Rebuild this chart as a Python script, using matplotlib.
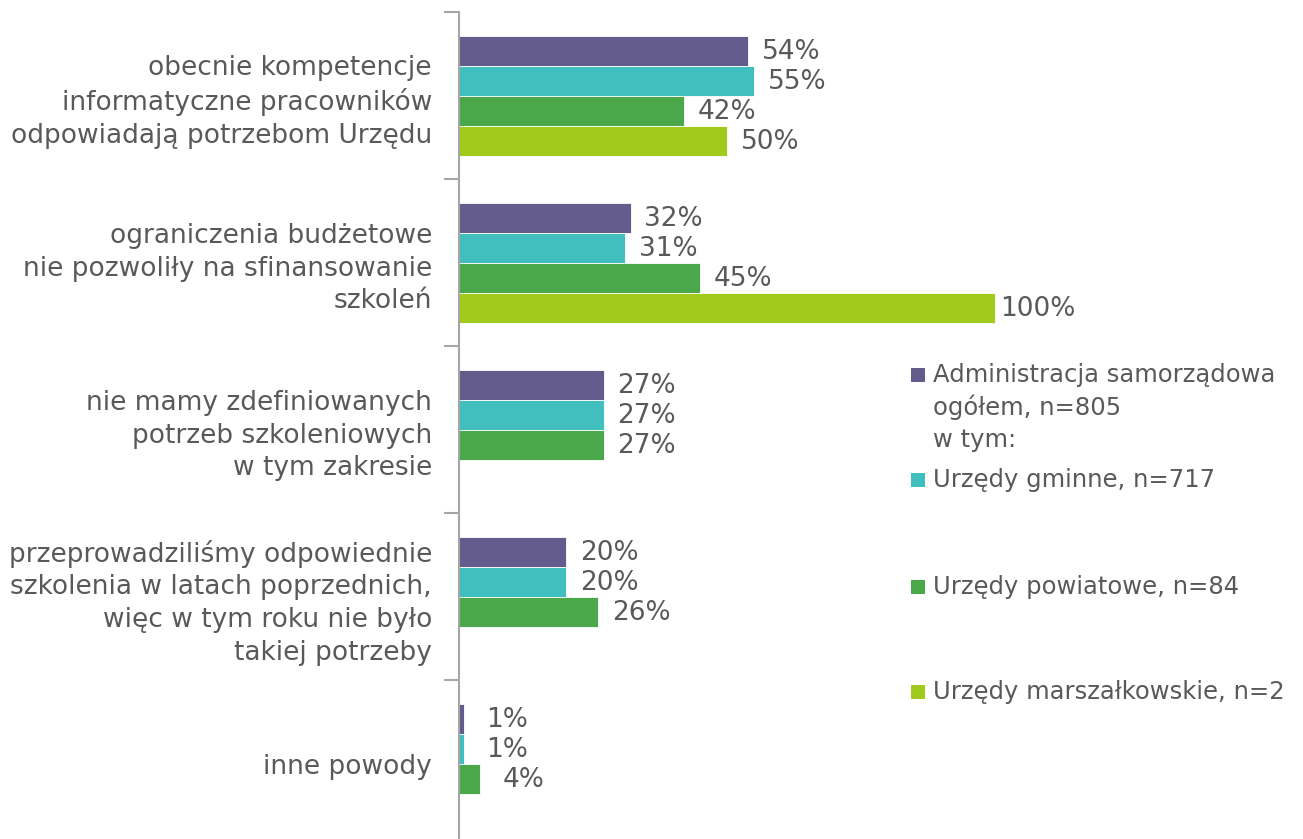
import matplotlib
matplotlib.use("Agg")
import matplotlib.pyplot as plt
from matplotlib.patches import Rectangle
import numpy as np

plt.rcParams['font.family'] = ['DejaVu Sans']

categories = [
    "obecnie kompetencje\ninformatyczne pracowników\nodpowiadają potrzebom Urzędu",
    "ograniczenia budżetowe\nnie pozwoliły na sfinansowanie\nszkoleń",
    "nie mamy zdefiniowanych\npotrzeb szkoleniowych\nw tym zakresie",
    "przeprowadziliśmy odpowiednie\nszkolenia w latach poprzednich,\nwięc w tym roku nie było\ntakiej potrzeby",
    "inne powody",
]
series_names = [
    "Administracja samorządowa\nogółem, n=805\nw tym:",
    "Urzędy gminne, n=717",
    "Urzędy powiatowe, n=84",
    "Urzędy marszałkowskie, n=2",
]
admin_ogolem = [54, 32, 27, 20, 1]
gminne = [55, 31, 27, 20, 1]
powiatowe = [42, 45, 27, 26, 4]
marszalkowskie = [50, 100, None, None, None]

series = [admin_ogolem, gminne, powiatowe, marszalkowskie]
colors = ["#625b8c", "#41bfbf", "#4aa84a", "#a0cb1d"]
text_color = "#595959"
axis_color = "#a6a6a6"

W, H = 1303, 839
px_per_pct = 5.36
fig = plt.figure(figsize=(W / 100, H / 100), dpi=100)
# axis at x=459, category bands of 167 px starting at y=12
ax = fig.add_axes([459 / W, (839 - 847) / H, (W - 459) / W, 835 / H])
ax.set_xlim(0, (W - 459) / px_per_pct)
ax.set_ylim(len(categories), 0)

bar_h = 30 / 167
for s, (vals, col) in enumerate(zip(series, colors)):
    for i, v in enumerate(vals):
        if v is None:
            continue
        y = i + 0.5 + (s - 1.5) * bar_h
        ax.barh(y, v, height=bar_h, color=col, edgecolor="white", linewidth=0.6)
        ax.text(v + 43 / px_per_pct, y + 0.01, f"{v}%", va="center", ha="center",
                fontsize=19, color=text_color)

for sp in ["top", "right", "bottom"]:
    ax.spines[sp].set_visible(False)
ax.spines["left"].set_color(axis_color)
ax.spines["left"].set_linewidth(1.5)
ax.set_xticks([])
ax.set_yticks(np.arange(len(categories)) + 0.5)
ax.set_yticklabels(categories, fontsize=19, color=text_color, linespacing=1.33)
ax.tick_params(axis="y", which="major", length=0, pad=19.5)
ax.set_yticks(np.arange(len(categories) + 1), minor=True)
ax.tick_params(axis="y", which="minor", length=11, width=1.5, color=axis_color, direction="out")

# legend, placed by hand like the original
legend_y = [375, 480, 587, 692]
line_step = 32.5
for name, col, ly in zip(series_names, colors, legend_y):
    fig.add_artist(Rectangle((911 / W, 1 - (ly + 7) / H), 14 / W, 14 / H,
                             transform=fig.transFigure, facecolor=col, edgecolor="none"))
    for k, line in enumerate(name.split("\n")):
        fig.text(933 / W, 1 - (ly + k * line_step) / H, line, ha="left", va="center",
                 fontsize=17.5, color=text_color)

fig.savefig("out.png", dpi=100)
